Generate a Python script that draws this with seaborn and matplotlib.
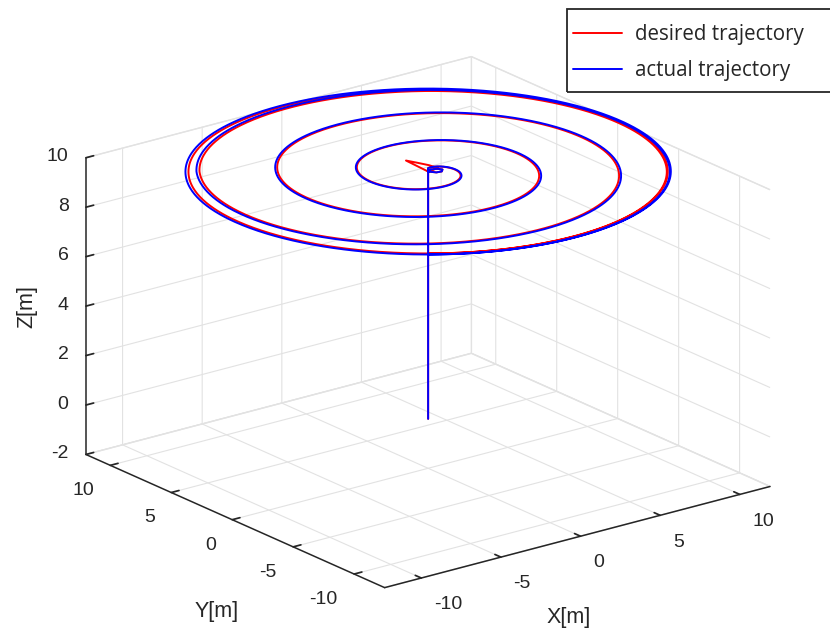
import numpy as np
import pandas as pd
import seaborn as sns
import matplotlib
matplotlib.use("Agg")
import matplotlib.pyplot as plt
from matplotlib.patches import Rectangle

sns.set_theme(style="white")
plt.rcParams["font.family"] = ["Liberation Sans", "DejaVu Sans"]
plt.rcParams["axes.unicode_minus"] = False
plt.rcParams["grid.color"] = "#e2e2e2"
plt.rcParams["grid.linewidth"] = 0.8
plt.rcParams["xtick.color"] = "#262626"
plt.rcParams["ytick.color"] = "#262626"

# polar angle (deg) of each quarter-turn anchor of the spiral, turning clockwise
anchor_deg = [52.5, -37.5, -127.5, -217.5, -307.5, -397.5, -487.5, -577.5,
              -667.5, -757.5, -847.5, -937.5, -1027.5, -1117.5, -1207.5,
              -1297.5, -1387.5, -1477.5, -1567.5]
# spiral radius [m] at each anchor
desired_r = [0.5, 1.5, 2.5, 3.5, 4.5, 5.5, 6.5, 7.5, 8.5, 9.5, 10.5, 11.4,
             11.75, 11.9, 11.95, 11.95, 11.95, 11.95, 11.95]
actual_r = [0.5, 1.55, 2.55, 3.55, 4.55, 5.6, 6.6, 7.6, 8.6, 9.6, 10.6, 11.55,
            11.9, 12.05, 12.1, 12.1, 12.1, 12.1, 12.1]

# vertical climb from the ground to the cruise altitude [m]
climb_z = [0.0, 10.0]
cruise_z = 10.0

# short hook of the reference path before it enters the spiral
desired_hook_x = [0.0, 0.1, 0.35, 0.6, 0.7]
desired_hook_y = [0.0, 1.95, 1.35, 0.7, 0.1]
# small settling loop around the spiral centre
loop_x = [0.0, 0.25, 0.55, 0.75, 0.6, 0.3, 0.05, -0.05, 0.0, 0.3]
loop_y = [0.0, -0.35, -0.4, -0.2, 0.05, 0.15, 0.1, -0.1, 0.0, 0.4]

x_ticks = [-10, -5, 0, 5, 10]
y_ticks = [-10, -5, 0, 5, 10]
z_ticks = [-2, 0, 2, 4, 6, 8, 10]
x_lim = (-12.3, 11.9)
y_lim = (-12.5, 12.0)
z_lim = (-2, 10)

W, H = 830, 630
INK = "#262626"


def spiral(radii):
    ang = np.array(anchor_deg[::-1])
    rad = np.array(radii[::-1])
    th = np.linspace(anchor_deg[0], anchor_deg[-1], 3000)
    r = np.interp(th, ang, rad)
    t = np.deg2rad(th)
    return r * np.cos(t), r * np.sin(t)


def path(radii, hook):
    sx, sy = spiral(radii)
    xs = [0.0, 0.0]
    ys = [0.0, 0.0]
    zs = list(climb_z)
    if hook:
        xs += desired_hook_x
        ys += desired_hook_y
        zs += [cruise_z] * len(desired_hook_x)
    xs += loop_x
    ys += loop_y
    zs += [cruise_z] * len(loop_x)
    xs += list(sx)
    ys += list(sy)
    zs += [cruise_z] * len(sx)
    return pd.DataFrame({"x": xs, "y": ys, "z": zs})


desired = path(desired_r, True)
actual = path(actual_r, False)

fig = plt.figure(figsize=(W / 100, H / 100), dpi=100)
ax = fig.add_axes([0.0054, -0.0248, 1.0, 1.0], projection="3d")
ax.set_proj_type("ortho")
ax.view_init(elev=20, azim=-127.5)
ax.set_box_aspect((1.0, 1.01, 0.65), zoom=1.17)

ax.plot(desired["x"], desired["y"], desired["z"], color="#ff0000", lw=1.4,
        label="desired trajectory")
ax.plot(actual["x"], actual["y"], actual["z"], color="#0000ff", lw=1.4,
        label="actual trajectory")

ax.set_xlim(*x_lim)
ax.set_ylim(*y_lim)
ax.set_zlim(*z_lim)
ax.set_xticks(x_ticks)
ax.set_yticks(y_ticks)
ax.set_zticks(z_ticks)
ax.grid(True)

for axis in (ax.xaxis, ax.yaxis, ax.zaxis):
    axis.set_pane_color((1, 1, 1, 1))
    axis.pane.set_edgecolor("#e2e2e2")
    axis.line.set_color(INK)
    axis.line.set_linewidth(1.1)
    axis._axinfo["tick"]["inward_factor"] = 0.0
    axis._axinfo["tick"]["outward_factor"] = 0.25

ax.tick_params(labelsize=14, colors=INK)
ax.xaxis.set_tick_params(pad=2)
ax.yaxis.set_tick_params(pad=2)
ax.zaxis.set_tick_params(pad=-2)
for lab in ax.get_xticklabels():
    lab.set_ha("left")
    lab.set_va("top")
for lab in ax.get_yticklabels():
    lab.set_ha("right")
    lab.set_va("top")
for lab in ax.get_zticklabels():
    lab.set_ha("right")
    lab.set_va("center")

# axis titles
fig.text(569 / W, 1 - 618 / H, "X[m]", ha="center", va="center",
         fontsize=15.5, color=INK)
fig.text(217 / W, 1 - 611 / H, "Y[m]", ha="center", va="center",
         fontsize=15.5, color=INK)
fig.text(27 / W, 1 - 307 / H, "Z[m]", ha="center", va="center",
         fontsize=15.5, color=INK, rotation=90)

# legend box
fig.patches.append(Rectangle((567 / W, 1 - 92 / H), 280 / W, 83 / H,
                             transform=fig.transFigure, fill=False,
                             edgecolor=INK, linewidth=1.3, zorder=5))
fig.legend(loc="upper left", bbox_to_anchor=(573 / W, 1 - 24 / H),
           prop={"family": "Open Sans", "size": 14.8},
           frameon=False, handlelength=2.4, handletextpad=0.6,
           labelspacing=0.74, borderpad=0.0, borderaxespad=0.0)

fig.savefig("out.png", dpi=100)
